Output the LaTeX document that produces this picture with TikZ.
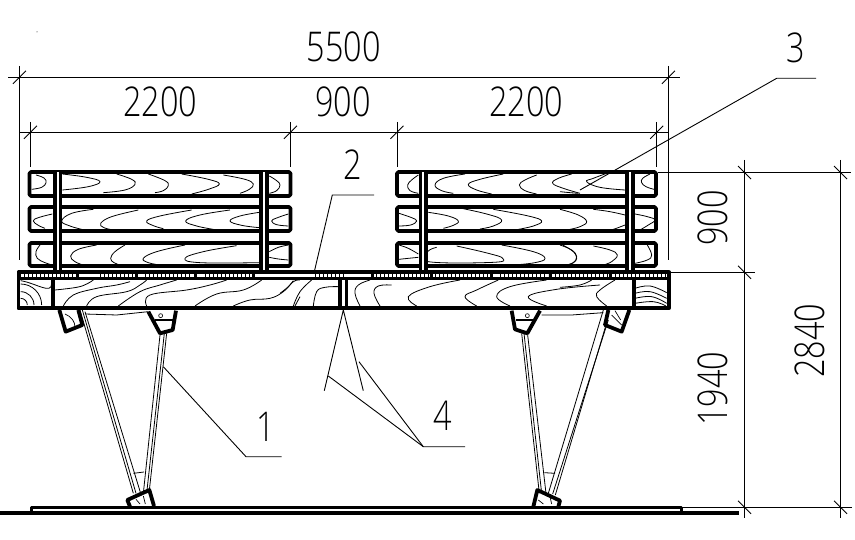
\documentclass[tikz,border=0pt]{standalone}
\usepackage{fontspec}
\newfontfamily\cad[FakeStretch=0.79]{Open Sans Light}
\tikzset{
  thinl/.style={line width=0.9pt,black},
  grain/.style={line width=0.8pt,black,smooth,tension=0.7},
  heavy/.style={line width=3.8pt,black,line join=round},
  strapl/.style={line width=3.8pt,black},
  strut/.style={line width=0.8pt,black},
  dimtext/.style={font=\cad\fontsize{41}{41}\selectfont,inner sep=0pt,black},
  hatch/.style={line width=3pt,black,dash pattern=on 1.4pt off 2.6pt},
  zoomA/.style={shift={(0,150)},x=0.33333pt,y=-0.33333pt},
}
\newcommand{\gr}[1]{\draw[grain] plot coordinates {#1};}
\newcommand{\fwd}[2]{\draw[thinl] (#1-6.5,#2+6.5) -- (#1+6.5,#2-6.5);}
\newcommand{\bwd}[2]{\draw[thinl] (#1-6.5,#2-6.5) -- (#1+6.5,#2+6.5);}
\begin{document}
\begin{tikzpicture}[x=1pt,y=-1pt]
\useasboundingbox (0,0) rectangle (855,540);
\fill[white] (0,0) rectangle (855,540);
\fill (37,32) circle (0.5pt);

% --- wood grain, left back
\begin{scope}[zoomA]
\gr{(108,75) (132,84) (138,98) (125,112) (95,118)}
\gr{(187,72) (260,82) (300,95) (265,110) (187,120)}
\gr{(350,72) (395,88) (405,103) (375,120) (310,128)}
\gr{(445,72) (495,92) (505,107) (490,122) (465,128)}
\gr{(545,72) (625,88) (658,102) (625,118) (575,132)}
\gr{(670,75) (735,88) (760,102) (748,118) (720,130)}
\gr{(808,78) (830,92) (840,105) (830,122) (808,130)}
\gr{(157,192) (115,203) (100,213) (115,226) (135,235)}
\gr{(280,178) (215,190) (185,213) (210,228) (245,238)}
\gr{(415,180) (335,200) (302,220) (310,232) (330,238)}
\gr{(575,180) (480,198) (440,213) (460,227) (490,236)}
\gr{(690,180) (600,195) (557,213) (590,228) (640,238)}
\gr{(778,187) (720,198) (690,213) (725,226) (778,233)}
\gr{(865,192) (830,204) (815,213) (830,224) (865,228)}
\gr{(120,285) (108,305) (112,325) (135,338) (157,345)}
\gr{(290,285) (235,298) (212,318) (225,335) (250,345)}
\gr{(375,285) (345,305) (332,325) (342,338) (360,345)}
\gr{(555,285) (470,305) (430,325) (445,338) (480,345)}
\gr{(710,287) (610,305) (555,325) (600,338) (778,338)}
\gr{(865,285) (835,292) (808,305)}
\gr{(808,322) (835,327) (865,330)}
% seat left
\gr{(165,420) (230,412) (260,402) (280,390)}
\gr{(190,468) (220,435) (290,415) (350,405) (390,395)}
\gr{(260,468) (290,440) (380,425) (420,405) (440,390)}
\gr{(355,468) (420,425) (480,405) (530,390)}
\gr{(440,468) (450,435) (560,420) (630,405) (680,390)}
\gr{(585,468) (650,432) (730,420) (785,390)}
\gr{(700,468) (750,450) (810,445) (850,425) (880,395) (900,390)}
\gr{(885,468) (900,440)}
% end grain left
\draw[line width=0.8pt] (62,445) arc[start angle=-90,end angle=0,radius=20];
\draw[line width=0.8pt] (62,425) arc[start angle=-90,end angle=0,radius=40];
\draw[line width=0.8pt] (62,402) arc[start angle=-90,end angle=0,radius=63];
\draw[line width=0.8pt] (62,392) .. controls (110,400) and (155,435) .. (155,400);
\end{scope}

% --- wood grain, middle zone
\begin{scope}[shift={(280,150)},x=0.33333pt,y=-0.33333pt]
\gr{(0,430) (25,410) (40,392)}
\gr{(40,468) (60,425) (95,390)}
\gr{(100,468) (110,425) (135,412) (175,410)}
\gr{(270,390) (235,405) (225,430) (240,468)}
\gr{(335,405) (295,408) (282,430) (300,468)}
\gr{(540,390) (450,410) (385,440) (410,468)}
\gr{(655,390) (590,420) (555,440) (590,468)}
\gr{(800,390) (690,410) (650,440) (690,468)}
\gr{(960,405) (830,418) (745,440) (800,468)}
% right slats
\gr{(415,75) (395,90) (383,105) (390,122) (415,130)}
\gr{(555,72) (490,85) (465,105) (485,122) (520,130)}
\gr{(670,72) (600,88) (565,103) (590,120) (635,132)}
\gr{(770,75) (735,90) (718,105) (735,122) (770,132)}
\gr{(875,72) (835,85) (818,100) (850,115) (900,130)}
\gr{(357,190) (395,203) (410,213) (392,225) (357,228)}
\gr{(445,187) (505,198) (535,213) (520,226) (490,235)}
\gr{(530,172) (620,192) (665,210) (640,228) (600,237)}
\gr{(640,178) (745,198) (785,213) (760,228) (715,238)}
\gr{(357,328) (385,325) (415,322)}
\gr{(357,285) (385,295) (415,312)}
\gr{(530,288) (625,310) (668,325) (640,337) (445,335) (443,305) (470,292)}
\gr{(665,285) (760,305) (795,325) (765,338) (700,345)}
\gr{(848,285) (880,305) (890,325) (880,338) (860,345)}
\end{scope}
\begin{scope}[shift={(560,150)},x=0.33333pt,y=-0.33333pt]
\gr{(140,70) (100,85) (80,95) (120,112) (195,120)}
\gr{(0,125) (30,128) (55,130)}
\gr{(0,178) (55,195) (80,215) (60,230) (30,238)}
\gr{(100,178) (150,185) (195,195)}
\gr{(195,225) (160,238) (135,243)}
\gr{(0,285) (35,300) (50,320) (40,338) (20,345)}
\gr{(100,288) (150,300) (172,315) (155,335) (130,345)}
\gr{(270,72) (248,85) (245,98) (258,110) (282,118)}
\gr{(225,192) (262,200) (285,210) (265,225) (240,240)}
\gr{(262,285) (275,315) (262,330) (225,340)}
\gr{(0,412) (60,405) (95,390)}
\gr{(165,390) (120,420) (110,440) (140,468)}
\draw[grain] plot coordinates {(225,415) (270,408) (320,428)};
\draw[grain] plot coordinates {(225,430) (270,425) (320,445)};
\draw[grain] plot coordinates {(225,445) (275,440) (320,460)};
\draw[grain] plot coordinates {(225,460) (280,455) (318,468)};
\end{scope}

% --- slats
\foreach \ya/\yb in {172/196,207/231,243/266}{
  \draw[heavy,rounded corners=1.5pt] (29.5,\ya) rectangle (290.5,\yb);
  \draw[heavy,rounded corners=1.5pt] (397,\ya) rectangle (656,\yb);
}
% --- straps
\foreach \xa/\xb in {55/60.5,261/267.3,420.5/426.3,627/633}{
  \fill[white] (\xa,172) rectangle (\xb,270);
  \draw[strapl] (\xa,172) -- (\xa,271);
  \draw[strapl] (\xb,172) -- (\xb,271);
}

% --- seat
\draw[heavy] (18.5,272.3) rectangle (669,308.3);
\draw[line width=3pt] (18.5,278.6) -- (669,278.6);
\draw[line width=3.4pt] (53,278) -- (53,308);
\draw[line width=3.6pt] (634,278) -- (634,308);
\draw[line width=3.4pt] (340,278) -- (340,308);
\draw[line width=3.4pt] (346.3,278) -- (346.3,308);
\foreach \a/\b in {20/76,100/135,145/190,205/252,315/345,372/432,435/490,500/548,555/640,645/668}{
  \draw[hatch] (\a,275.6) -- (\b,275.6);
}
\foreach \x in {77,136,195,253,372,431,491,550,610}{
  \draw[line width=3pt] (\x,274) -- (\x,279);
}

% --- left trestle
\begin{scope}[shift={(50,300)},x=0.33333pt,y=-0.33333pt]
\draw[strut] (90,30) -- (250,580);
\draw[strut] (97,30) -- (258,580);
\draw[strut] (105,35) -- (272,580);
\draw[strut] (330,105) -- (280,580);
\draw[strut] (343,100) -- (290,580);
\draw[strut] (350,100) -- (297,580);
\draw[strut] (250,520) -- (282,516);
\draw[strut] (105,42) -- (200,45) -- (295,35);
\draw[heavy] (28,30) -- (47,95) -- (97,75) -- (85,30);
\draw[line width=0.7pt] (45,42) .. controls (65,50) and (75,65) .. (75,82);
\draw[heavy] (295,35) -- (330,100) -- (368,90) -- (378,32);
\draw[line width=2.6pt] (315,60) -- (372,60);
\draw[line width=0.6pt] (332,47) circle (6);
\draw[heavy] (240,620) -- (232,600) -- (298,570) -- (312,618);
\draw[line width=0.7pt] (258,598) -- (270,612);
\draw[line width=0.7pt] (280,588) -- (286,612);
\end{scope}

% --- right trestle
\begin{scope}[shift={(500,300)},x=0.33333pt,y=-0.33333pt]
\draw[strut] (65,100) -- (118,580);
\draw[strut] (72,100) -- (125,580);
\draw[strut] (83,105) -- (138,580);
\draw[strut] (310,30) -- (145,580);
\draw[strut] (325,60) -- (158,582);
\draw[strut] (318,75) -- (166,585);
\draw[strut] (133,518) -- (165,520);
\draw[strut] (125,45) -- (215,45) -- (310,38);
\draw[heavy] (35,32) -- (45,88) -- (82,100) -- (120,32);
\draw[line width=2.6pt] (48,60) -- (105,60);
\draw[line width=0.6pt] (82,47) circle (6);
\draw[heavy] (325,30) -- (315,75) -- (365,95) -- (388,30);
\draw[line width=0.7pt] (335,45) -- (365,75);
\draw[line width=0.7pt] (345,32) -- (362,60);
\draw[heavy] (100,620) -- (112,570) -- (180,602) -- (175,620);
\draw[line width=0.7pt] (115,600) -- (130,612);
\draw[line width=0.7pt] (150,590) -- (155,612);
\end{scope}

% --- ground
\draw[line width=3.4pt] (0,513) -- (738.7,513);
\draw[line width=3pt,line join=round] (31,513) -- (31,507) -- (681,507) -- (681,513);

% --- dimension lines
\draw[thinl] (8,77.3) -- (680,77.3);
\draw[thinl] (19,132.3) -- (668.5,132.3);
\draw[thinl] (19.5,66) -- (19.5,260);
\draw[thinl] (668.5,66) -- (668.5,260);
\foreach \x in {30.5,290.5,397,656.7}{\draw[thinl] (\x,122) -- (\x,167);}
\draw[thinl] (658,172.5) -- (851,172.5);
\draw[thinl] (670,272.3) -- (755,272.3);
\draw[thinl] (681,507.3) -- (852,507.3);
\draw[thinl] (744.5,160) -- (744.5,518);
\draw[thinl] (840.5,160) -- (840.5,518);
\fwd{19.5}{77.3}\fwd{668.5}{77.3}
\fwd{30.5}{132.3}\fwd{290.5}{132.3}\fwd{397}{132.3}\fwd{656.7}{132.3}
\bwd{744.5}{172.5}\bwd{840.5}{172.5}
\bwd{744.5}{272.3}
\bwd{744.5}{507.3}\bwd{840.5}{507.3}

% --- leaders
\coordinate (L1a) at (163.3,366.7);
\coordinate (L1b) at (246,456.7);
\coordinate (L1c) at (281.7,456.7);
\draw[thinl] (L1a) -- (L1b) -- (L1c);
\coordinate (L2a) at (314.3,271.7);
\coordinate (L2b) at (332.3,195);
\coordinate (L2c) at (374,195);
\draw[thinl] (L2a) -- (L2b) -- (L2c);
\coordinate (L3a) at (580,190);
\coordinate (L3b) at (776.7,78.3);
\coordinate (L3c) at (816,78.3);
\draw[thinl] (L3a) -- (L3b) -- (L3c);
\coordinate (L4c) at (465,446.7);
\coordinate (L4b) at (423.3,446.7);
\coordinate (L4a) at (328.3,376);
\coordinate (L4d) at (359,361.7);
\coordinate (L4t) at (343.3,310);
\draw[thinl] (L4c) -- (L4b) -- (L4a);
\draw[thinl] (L4b) -- (L4d);
\draw[thinl] (324.3,390.7) -- (L4t) -- (363.3,390.7);

% --- text
\node[dimtext] (d5500) at (343.5,46.5) {5500};
\node[dimtext] (d2200a) at (160,102.3) {2200};
\node[dimtext] (d900a) at (343,102.3) {900};
\node[dimtext] (d2200b) at (526,102.3) {2200};
\node[dimtext,rotate=90] (d900b) at (713,218) {900};
\node[dimtext,rotate=90] (d1940) at (713,389) {1940};
\node[dimtext,rotate=90] (d2840) at (810,341) {2840};
\node[dimtext] (n1) at (266,427) {1};
\node[dimtext] (n2) at (352.7,165) {2};
\node[dimtext] (n3) at (795.7,48) {3};
\node[dimtext] (n4) at (443,416) {4};
\end{tikzpicture}
\end{document}
